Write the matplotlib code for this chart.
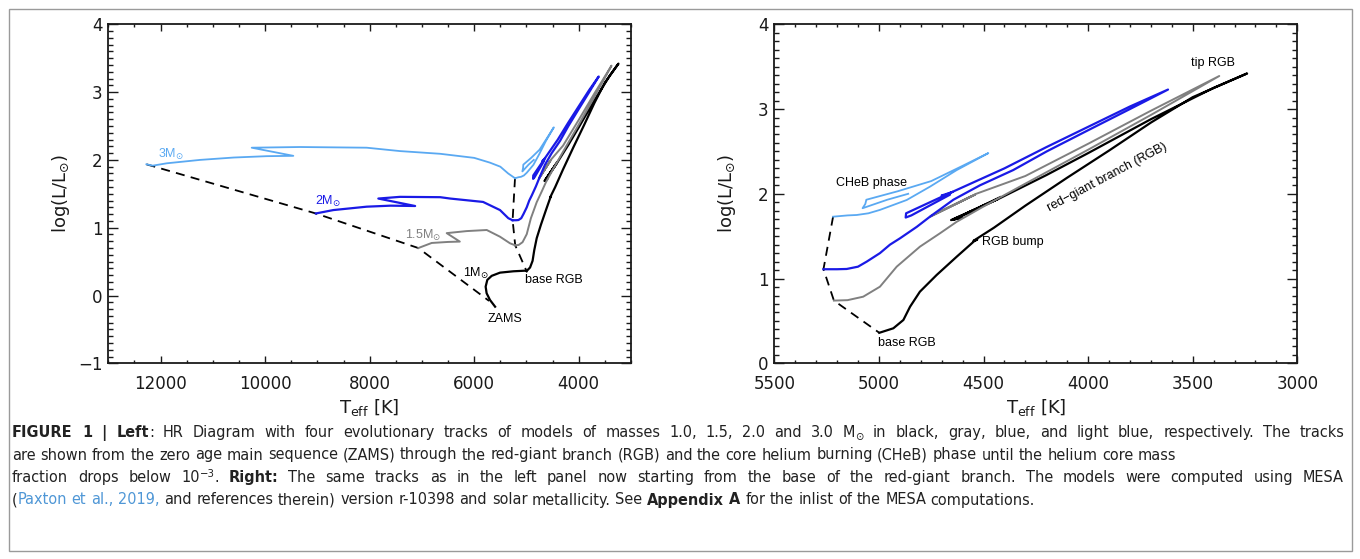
import re
import matplotlib
matplotlib.use("Agg")
import matplotlib.pyplot as plt
from matplotlib.patches import Rectangle
from matplotlib.ticker import MultipleLocator
from matplotlib import font_manager
from collections import defaultdict

W, H, DPI = 1360, 559, 100

# ---------------- data (Teff [K], log L/Lsun) ----------------
# 1 Msun
m1_ms_T = [5600, 5698, 5762, 5781, 5749, 5665, 5506, 5251, 5028, 4998]
m1_ms_L = [-0.165, -0.066, 0.033, 0.13, 0.23, 0.29, 0.337, 0.357, 0.366, 0.36]
m1_rg_T = [4998, 4931, 4883, 4851, 4804, 4724, 4628, 4545, 4530, 4548, 4450, 4300, 4100,
           3900, 3700, 3500, 3240, 3400, 3700, 4000, 4200, 4420, 4655, 4600, 4645, 4430,
           4640, 4420]
m1_rg_L = [0.36, 0.413, 0.511, 0.668, 0.845, 1.042, 1.258, 1.44, 1.46, 1.445, 1.60, 1.86, 2.19,
           2.51, 2.84, 3.14, 3.42, 3.25, 2.88, 2.48, 2.22, 1.95, 1.69, 1.72, 1.695, 1.94,
           1.70, 1.96]
# 1.5 Msun
m15_ms_T = [7069, 6813, 6500, 6275, 6526, 6143, 5760, 5506, 5315, 5215]
m15_ms_L = [0.70, 0.775, 0.79, 0.795, 0.92, 0.95, 0.966, 0.867, 0.77, 0.74]
m15_rg_T = [5215, 5150, 5075, 4995, 4915, 4804, 4708, 4628, 4500, 4300, 4000, 3700, 3373,
            3700, 4000, 4300, 4535, 4755, 4540, 4750, 4560]
m15_rg_L = [0.74, 0.745, 0.786, 0.904, 1.14, 1.376, 1.534, 1.67, 1.85, 2.12, 2.52, 2.93, 3.39,
            2.98, 2.59, 2.21, 2.00, 1.73, 1.99, 1.74, 1.97]
# 2 Msun
m2_ms_T = [9030, 8695, 8057, 7600, 7130, 7834, 7420, 6650, 6460, 5830, 5506, 5347, 5265]
m2_ms_L = [1.21, 1.26, 1.31, 1.325, 1.32, 1.43, 1.455, 1.45, 1.43, 1.38, 1.26, 1.14, 1.11]
m2_rg_T = [5265, 5200, 5154, 5100, 5058, 4995, 4947, 4899, 4819, 4756, 4644, 4517, 4358,
           4198, 4000, 3800, 3618, 3800, 4000, 4200, 4400, 4660, 4870, 4872, 4845, 4660,
           4700, 4650]
m2_rg_L = [1.11, 1.11, 1.113, 1.14, 1.20, 1.30, 1.40, 1.475, 1.61, 1.73, 1.93, 2.10, 2.28,
           2.50, 2.75, 3.00, 3.23, 3.03, 2.79, 2.55, 2.30, 2.01, 1.77, 1.72, 1.745, 1.99,
           1.98, 2.02]
# 3 Msun
m3_ms_T = [12270, 12150, 11880, 11245, 10600, 9970, 9460, 10257, 9333, 8057, 7420, 6650,
           6000, 5700, 5500, 5350, 5219]
m3_ms_L = [1.935, 1.915, 1.95, 2.00, 2.035, 2.055, 2.06, 2.18, 2.19, 2.18, 2.13, 2.09,
           2.03, 1.96, 1.90, 1.80, 1.73]
m3_rg_T = [5219, 5150, 5106, 5050, 4995, 4867, 4756, 4628, 4477, 4600, 4750, 4910, 5060,
           5065, 5078, 4960, 4860]
m3_rg_L = [1.73, 1.745, 1.75, 1.77, 1.81, 1.927, 2.084, 2.28, 2.48, 2.33, 2.15, 2.03, 1.93,
           1.88, 1.83, 1.93, 2.00]
# dashed connectors
zams_T = [12270, 9030, 7069, 5715]
zams_L = [1.935, 1.21, 0.70, -0.08]
base_T = [5219, 5265, 5215, 4998]
base_L = [1.73, 1.11, 0.74, 0.36]

left_xticks = [12000, 10000, 8000, 6000, 4000]
left_yticks = [-1, 0, 1, 2, 3, 4]
right_xticks = [5500, 5000, 4500, 4000, 3500, 3000]
right_yticks = [0, 1, 2, 3, 4]

# ---------------- styling ----------------
C_LB = "#5aa9f2"
C_B = "#1a1ae6"
C_G = "#808080"
C_K = "#000000"


# ---- choose a condensed sans family (with a bold face if possible) for the caption ----
def _w(f):
    w = f.weight
    if isinstance(w, (int, float)):
        return int(w)
    return {"normal": 400, "regular": 400, "book": 400, "medium": 500, "light": 300,
            "semibold": 600, "demibold": 600, "bold": 700, "heavy": 800,
            "black": 900}.get(str(w).lower(), 400)


cands = defaultdict(set)
for f in font_manager.fontManager.ttflist:
    n = f.name
    if "Serif" in n or "Mono" in n:
        continue
    st = str(f.stretch)
    if "Narrow" in n or "Condensed" in n or st in ("condensed", "semi-condensed"):
        cands[(n, st if st in ("condensed", "semi-condensed") else "normal")].add(_w(f))

cap_family, cap_stretch = "Liberation Sans", "normal"
best = None
for key, ws in cands.items():
    score = (any(w >= 600 for w in ws)) * 2 + (any(350 <= w <= 500 for w in ws)) * 1
    if "Liberation" in key[0]:
        score += 0.5
    if best is None or score > best[0]:
        best = (score, key)
if best is not None:
    cap_family, cap_stretch = best[1]

ANN_FONT = ["Liberation Sans", "DejaVu Sans"]

plt.rcParams["font.family"] = ["DejaVu Sans"]
plt.rcParams["mathtext.fontset"] = "dejavusans"

fig = plt.figure(figsize=(W / DPI, H / DPI), dpi=DPI)


def px_axes(x0, y0, x1, y1):
    return fig.add_axes([x0 / W, 1 - y1 / H, (x1 - x0) / W, (y1 - y0) / H])


axL = px_axes(108.3, 24.3, 631, 363.3)
axR = px_axes(774.3, 24.3, 1297.3, 363.3)

tracks = [
    (m1_ms_T, m1_ms_L, m1_rg_T, m1_rg_L, C_K, 1.6),
    (m15_ms_T, m15_ms_L, m15_rg_T, m15_rg_L, C_G, 1.4),
    (m2_ms_T, m2_ms_L, m2_rg_T, m2_rg_L, C_B, 1.6),
    (m3_ms_T, m3_ms_L, m3_rg_T, m3_rg_L, C_LB, 1.3),
]

for ax, full in ((axL, True), (axR, False)):
    for msT, msL, rgT, rgL, c, lw in tracks:
        if full:
            ax.plot(msT, msL, color=c, lw=lw, solid_joinstyle="round", zorder=3)
        ax.plot(rgT, rgL, color=c, lw=lw, solid_joinstyle="round", zorder=3)
    ax.plot(base_T, base_L, color="k", lw=1.3, ls=(0, (5, 3.5)), zorder=2)
    if full:
        ax.plot(zams_T, zams_L, color="k", lw=1.3, ls=(0, (5, 3.5)), zorder=2)

axL.set_xlim(13000, 3000)
axL.set_ylim(-1.0, 4.0)
axL.set_xticks(left_xticks)
axL.set_yticks(left_yticks)
axL.set_yticklabels(["\u22121" if v < 0 else str(v) for v in left_yticks])
axL.xaxis.set_minor_locator(MultipleLocator(500))
axL.yaxis.set_minor_locator(MultipleLocator(0.1))

axR.set_xlim(5500, 3000)
axR.set_ylim(0.0, 4.0)
axR.set_xticks(right_xticks)
axR.set_yticks(right_yticks)
axR.xaxis.set_minor_locator(MultipleLocator(100))
axR.yaxis.set_minor_locator(MultipleLocator(0.1))

for ax in (axL, axR):
    for s in ax.spines.values():
        s.set_linewidth(1.3)
        s.set_color("#1a1a1a")
    ax.tick_params(which="both", direction="in", top=True, right=True,
                   width=1.0, color="#1a1a1a", labelsize=12, labelcolor="#1a1a1a")
    ax.tick_params(axis="y", which="major", length=7.5, pad=4)
    ax.tick_params(axis="y", which="minor", length=3.8)
    ax.tick_params(axis="x", which="major", length=5.0, pad=8.5)
    ax.tick_params(axis="x", which="minor", length=2.5)
    ax.set_ylabel(r"log(L/L$_{\odot}$)", fontsize=13, va="center", color="#1a1a1a")
    ax.yaxis.set_label_coords(-0.0905, 0.5)
    ax.set_xlabel(r"T$_{\rm eff}$ [K]", fontsize=13, va="center", color="#1a1a1a")
    ax.xaxis.set_label_coords(0.5, -0.129)


# ---- annotations ----
def ann(ax, x, y, s, color="k", **kw):
    ax.text(x, y, s, color=color, fontsize=9, family=ANN_FONT, ha="center", va="center", **kw)


ann(axL, 11804, 2.077, r"3M$_{\odot}$", C_LB)
ann(axL, 8791, 1.38, r"2M$_{\odot}$", C_B)
ann(axL, 6974, 0.88, r"1.5M$_{\odot}$", C_G)
ann(axL, 5969, 0.33, r"1M$_{\odot}$", C_K)
ann(axL, 4477, 0.233, "base RGB")
ann(axL, 5416, -0.35, "ZAMS")

ann(axR, 5036, 2.133, "CHeB phase")
ann(axR, 4358, 1.43, "RGB bump")
ann(axR, 4867, 0.236, "base RGB")
ann(axR, 3401, 3.54, "tip RGB")
ann(axR, 3909, 2.198, "red\u2212giant branch (RGB)", rotation=28, rotation_mode="anchor")

# ---- frame around whole figure ----
fig.patches.append(Rectangle((8.5 / W, 1 - 550.5 / H), (1351.5 - 8.5) / W, (550.5 - 8.5) / H,
                             transform=fig.transFigure, fill=False, ec="#9a9a9a", lw=1.0))

# ---- caption ----
renderer = fig.canvas.get_renderer()
LINK = "#4f97d6"
TXT = "#222222"

line1 = [("FIGURE 1 | Left", dict(b=True)),
         (": HR Diagram with four evolutionary tracks of models of masses 1.0, 1.5, 2.0 and 3.0 M", {}),
         ("\u2299", dict(sub=True)),
         (" in black, gray, blue, and light blue, respectively. The tracks", {})]
line2 = [("are shown from the zero age main sequence (ZAMS) through the red-giant branch (RGB) and the core helium burning (CHeB) phase until the helium core mass", {})]
line3 = [("fraction drops below 10", {}), ("\u22123", dict(sup=True)), (". ", {}),
         ("Right:", dict(b=True)),
         (" The same tracks as in the left panel now starting from the base of the red-giant branch. The models were computed using MESA", {})]
line4 = [("(", {}), ("Paxton et al., 2019,", dict(c=LINK)),
         (" and references therein) version r-10398 and solar metallicity. See ", {}),
         ("Appendix A", dict(b=True)),
         (" for the inlist of the MESA computations.", {})]


def seg_kw(opt, size):
    small = opt.get("sub") or opt.get("sup")
    return dict(fontsize=size * (0.7 if small else 1.0),
                family=[cap_family, "DejaVu Sans"], fontstretch=cap_stretch,
                fontweight="bold" if opt.get("b") else "normal",
                color=opt.get("c", TXT))


def width_of(s, kw):
    t = fig.text(0, 0, "|" + s + "|", **kw)
    t2 = fig.text(0, 0, "||", **kw)
    w = t.get_window_extent(renderer).width - t2.get_window_extent(renderer).width
    t.remove()
    t2.remove()
    return w


def line_width(segs, size):
    return sum(width_of(s, seg_kw(o, size)) for s, o in segs)


CAP_X0, CAP_X1 = 12.0, 1344.0
LINE2_END = 1170.0
cap_size = 10.0 * (LINE2_END - CAP_X0) / line_width(line2, 10.0)


def rich_line(base_px, segs, justify=False):
    extra = 0.0
    if justify:
        nat = line_width(segs, cap_size)
        nsp = sum(s.count(" ") for s, o in segs if not (o.get("sub") or o.get("sup")))
        extra = max(0.0, (CAP_X1 - CAP_X0 - nat) / max(nsp, 1))
    x = CAP_X0
    for s, opt in segs:
        kw = seg_kw(opt, cap_size)
        dy = 0.0
        if opt.get("sub"):
            dy = -0.22 * cap_size
        if opt.get("sup"):
            dy = 0.45 * cap_size
        sp_w = width_of(" ", kw)
        for piece in re.split(r"( )", s):
            if piece == "":
                continue
            if piece == " ":
                x += sp_w + extra
                continue
            fig.text(x / W, 1 - (base_px - dy) / H, piece, va="baseline", ha="left", **kw)
            x += width_of(piece, kw)


rich_line(437, line1, justify=True)
rich_line(459.5, line2)
rich_line(482, line3, justify=True)
rich_line(504.5, line4)

fig.savefig("out.png", dpi=DPI)
